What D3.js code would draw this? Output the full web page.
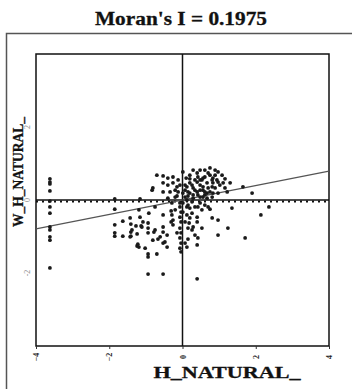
<!DOCTYPE html>
<html>
<head>
<meta charset="utf-8">
<script src="https://cdn.jsdelivr.net/npm/d3@7"></script>
<style>
  html, body { margin: 0; padding: 0; background: #fff; }
  svg { display: block; }
</style>
</head>
<body>
<svg id="chart" width="352" height="389"></svg>
<script>
const moranI = 0.1975;
const xLabel = 'H_NATURAL_';
const yLabel = 'W_H_NATURAL_';
const xTicks = [-4, -2, 0, 2, 4];
const yTicks = [-2, 0, 2];

// [H_NATURAL_, W_H_NATURAL_]
const points = [
  [-3.62, 0.58], [-3.62, 0.49], [-3.62, 0.44], [-3.62, 0.25], [-3.62, -0.03], [-3.62, -0.19],
  [-3.62, -0.36], [-3.62, -0.74], [-3.62, -0.82], [-3.62, -1.01], [-3.62, -1.10], [-3.62, -1.86],
  [-1.85, 0.03], [-1.85, -0.25], [-1.85, -0.68], [-1.85, -0.90], [-1.85, -0.99],
  [-1.63, -0.58], [-1.63, -0.99],
  [-1.43, -0.49], [-1.41, -0.66], [-1.41, -0.88], [-1.41, -0.99], [-1.38, -0.82], [-1.43, -1.01],
  [-1.27, -0.71], [-1.24, -0.93], [-1.24, -1.26], [-1.19, -1.29], [-1.22, -1.21],
  [-1.19, -0.27], [-1.16, -0.47], [-1.13, -0.71], [-1.08, -0.60], [-1.11, -0.74], [-1.02, -1.32],
  [-0.92, -0.36], [-0.94, -0.63], [-0.94, -0.77], [-0.94, -0.90], [-0.94, -1.48], [-0.94, -1.56], [-0.94, -2.03],
  [-0.81, -1.10], [-0.78, -0.88], [-0.75, -0.19], [-0.75, -0.82], [-0.70, -1.48], [-0.67, -1.07], [-0.61, -1.01],
  [-0.53, -0.41], [-0.53, -0.74], [-0.53, -0.88], [-0.53, -1.18], [-0.53, -2.03], [-0.48, -1.15],
  [-0.42, -0.96], [-0.42, -1.29], [-0.31, -0.30], [-0.31, -0.60], [-0.26, -0.68], [-0.26, -0.55],
  [-0.29, -0.08], [-0.20, -0.27], [-0.29, -0.41], [-0.15, -0.90],
  [-0.07, -0.08], [-0.07, -0.19], [-0.04, -0.33], [-0.07, -0.47], [-0.04, -0.60], [-0.07, -0.77],
  [-0.04, -0.90], [-0.07, -1.04], [-0.04, -1.18], [-0.07, -1.32], [-0.04, -1.42],
  [0.01, -0.33], [0.12, -0.19], [0.20, -0.22], [0.15, -0.14], [0.34, -0.19], [0.26, -0.36],
  [0.12, -0.41], [0.20, -0.49], [0.40, -0.47], [0.07, -0.60], [0.18, -0.63], [0.40, -0.60],
  [0.42, -0.19], [0.53, -0.27], [0.61, -0.14], [0.70, -0.19], [0.75, -0.25], [0.81, -0.49],
  [0.97, -0.55], [0.15, -0.77], [0.29, -0.74], [0.26, -0.82], [0.34, -0.96], [0.53, -0.77],
  [0.15, -1.07], [0.42, -1.04], [0.07, -1.18], [0.40, -1.23], [0.12, -1.29], [0.97, -0.96],
  [1.24, -0.77], [1.35, -0.22], [1.71, -1.04], [2.14, -0.41], [2.36, -0.19], [0.40, -2.16],
  [0.01, -0.08], [0.26, -0.05], [0.48, -0.08],
  [-1.16, 0.03], [-0.83, 0.27], [-0.81, 0.33], [-0.70, 0.68], [-0.53, 0.66], [-0.40, 0.60],
  [-0.26, 0.63], [-0.26, 0.47], [-0.40, 0.41], [-0.53, 0.47], [-0.53, 0.22], [-0.34, 0.22],
  [-0.20, 0.27], [-0.15, 0.36], [-0.15, 0.11], [-0.12, 0.22], [-0.07, 0.41], [-0.12, 0.55],
  [-0.20, 0.08], [-0.40, 0.05],
  [0.01, 0.77], [0.20, 0.68], [0.29, 0.82], [0.40, 0.74], [0.48, 0.82], [0.61, 0.82], [0.75, 0.88],
  [0.70, 0.74], [0.89, 0.68], [0.94, 0.55], [0.56, 0.60], [0.40, 0.49], [0.20, 0.47], [0.12, 0.36],
  [0.29, 0.33], [0.48, 0.41], [0.67, 0.47], [0.81, 0.36], [0.01, 0.19], [0.20, 0.19], [0.40, 0.22],
  [0.56, 0.27], [0.75, 0.22], [0.12, 0.00], [0.29, 0.05], [0.48, 0.08], [0.67, 0.05],
  [0.53, 0.55], [0.61, 0.63], [0.75, 0.68], [0.81, 0.55], [0.56, 0.36], [0.70, 0.33], [0.83, 0.47],
  [0.89, 0.33], [0.97, 0.77], [1.08, 0.68], [0.97, 0.49], [1.11, 0.47], [1.16, 0.33], [0.97, 0.19],
  [0.83, 0.19], [0.67, 0.19], [0.56, 0.08], [1.30, 0.47], [1.65, 0.36], [1.90, 0.19],
  [0.89, 0.82], [1.02, 0.41], [1.22, 0.22], [1.16, 0.58],
  [0.07, 0.41], [0.07, 0.27], [0.15, 0.22], [0.26, 0.41], [0.34, 0.55], [0.42, 0.63], [0.34, 0.27],
  [0.48, 0.27], [0.61, 0.22], [0.29, 0.14], [0.15, 0.11], [0.07, 0.08], [0.42, 0.14], [0.61, 0.14],
  [0.81, 0.08], [0.20, 0.58], [0.10, 0.60], [0.83, 0.60], [0.48, 0.55]
];

const svg = d3.select('#chart');

// Outer frame
svg.append('rect')
  .attr('x', 6.5).attr('y', 33.5)
  .attr('width', 360).attr('height', 400)
  .attr('fill', 'none')
  .attr('stroke', '#555')
  .attr('stroke-width', 1.5);

// Title
svg.append('text')
  .attr('x', 181).attr('y', 25)
  .attr('text-anchor', 'middle')
  .attr('textLength', 172)
  .attr('lengthAdjust', 'spacingAndGlyphs')
  .style('font-family', '"Liberation Serif", "Times New Roman", serif')
  .style('font-weight', 'bold')
  .style('font-size', '18px')
  .style('stroke', '#111')
  .style('stroke-width', 0.3)
  .style('fill', '#111')
  .text(`Moran's I = ${moranI}`);

const x = d3.scaleLinear().domain([-4, 4]).range([36, 329]);
const y = d3.scaleLinear().domain([-4, 4]).range([346, 54]);

// Plot box
svg.append('rect')
  .attr('x', x(-4)).attr('y', y(4))
  .attr('width', x(4) - x(-4)).attr('height', y(-4) - y(4))
  .attr('fill', 'none')
  .attr('stroke', '#111')
  .attr('stroke-width', 1.5);

// Bottom ticks
const xAxis = svg.append('g')
  .attr('transform', `translate(0,${y(-4)})`)
  .call(d3.axisBottom(x).tickValues(xTicks).tickSize(3).tickFormat(d3.format('d')));
xAxis.select('.domain').remove();
xAxis.selectAll('line').attr('stroke', '#333');
xAxis.selectAll('text')
  .attr('y', 0).attr('dy', 0)
  .attr('transform', 'translate(0,11) rotate(-90)')
  .attr('text-anchor', 'middle')
  .attr('dominant-baseline', 'central')
  .style('font-family', '"Liberation Serif", serif')
  .style('font-weight', 'bold')
  .style('font-size', '8px')
  .style('fill', '#222');

// Left tick labels (faint)
svg.append('g')
  .selectAll('text')
  .data(yTicks)
  .enter()
  .append('text')
  .attr('transform', d => `translate(30,${y(d)}) rotate(-90)`)
  .attr('text-anchor', 'middle')
  .style('font-family', '"Liberation Serif", serif')
  .style('font-size', '8px')
  .style('fill', '#888')
  .text(d => d);

// Zero lines
svg.append('line')
  .attr('x1', x(0)).attr('x2', x(0))
  .attr('y1', y(4)).attr('y2', y(-4))
  .attr('stroke', '#111').attr('stroke-width', 1.5);
svg.append('line')
  .attr('x1', x(-4)).attr('x2', x(4))
  .attr('y1', y(0)).attr('y2', y(0))
  .attr('stroke', '#111').attr('stroke-width', 1.5);
svg.append('line')
  .attr('x1', x(-4)).attr('x2', x(4))
  .attr('y1', y(0) + 1.5).attr('y2', y(0) + 1.5)
  .attr('stroke', '#111').attr('stroke-width', 2)
  .attr('stroke-dasharray', '2,4');

// Regression line, slope = Moran's I
svg.append('line')
  .attr('x1', x(-4)).attr('x2', x(4))
  .attr('y1', y(-4 * moranI)).attr('y2', y(4 * moranI))
  .attr('stroke', '#555').attr('stroke-width', 1.2);

// Points
svg.append('g')
  .selectAll('circle')
  .data(points)
  .enter()
  .append('circle')
  .attr('cx', d => x(d[0]))
  .attr('cy', d => y(d[1]))
  .attr('r', 1.9)
  .attr('fill', '#1a1a1a');

// Axis titles
svg.append('text')
  .attr('x', 227).attr('y', 378)
  .attr('text-anchor', 'middle')
  .attr('textLength', 147)
  .attr('lengthAdjust', 'spacingAndGlyphs')
  .style('font-family', '"Liberation Serif", serif')
  .style('font-weight', 'bold')
  .style('font-size', '16px')
  .style('stroke', '#111')
  .style('stroke-width', 0.3)
  .style('fill', '#111')
  .text(xLabel);

svg.append('text')
  .attr('transform', 'translate(23,172) rotate(-90)')
  .attr('text-anchor', 'middle')
  .attr('textLength', 110)
  .attr('lengthAdjust', 'spacingAndGlyphs')
  .style('font-family', '"Liberation Serif", serif')
  .style('font-weight', 'bold')
  .style('font-size', '15px')
  .style('stroke', '#111')
  .style('stroke-width', 0.3)
  .style('fill', '#111')
  .text(yLabel);
</script>
</body>
</html>
